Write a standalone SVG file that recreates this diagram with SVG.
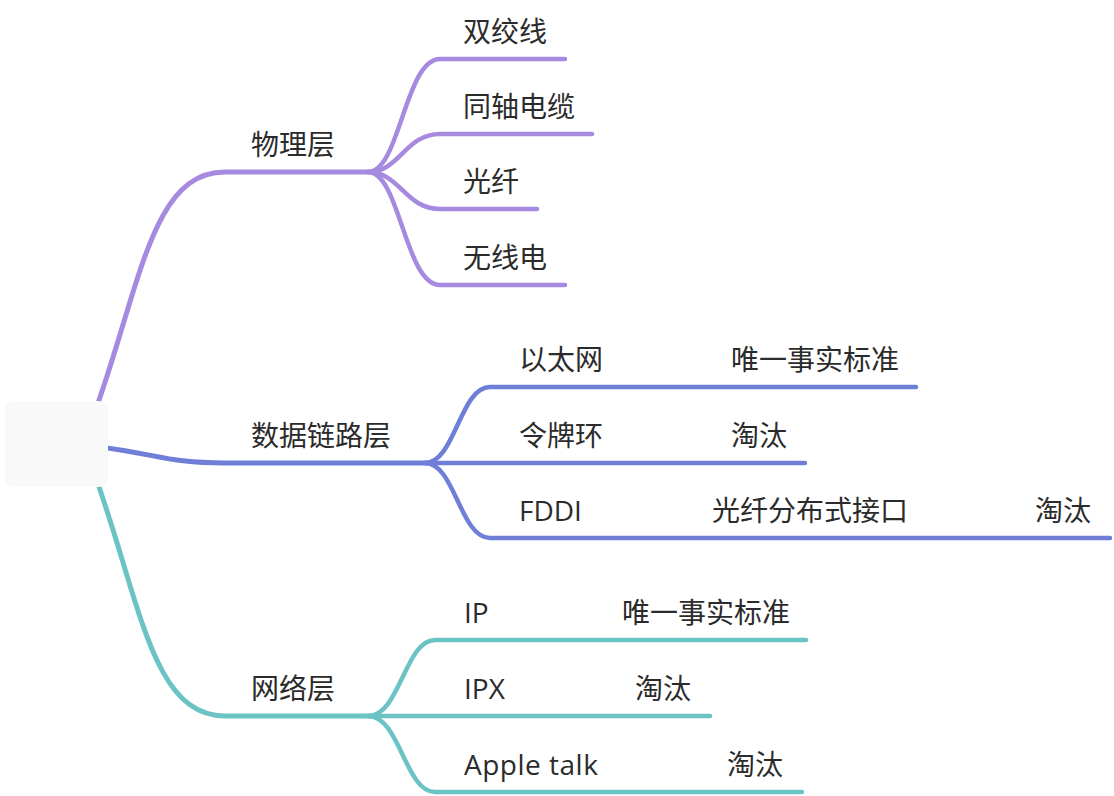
<svg xmlns="http://www.w3.org/2000/svg" width="1114" height="796" viewBox="0 0 1114 796">
<style>
text{font-family:"Open Sans","Noto Sans CJK SC",sans-serif;font-size:28px;fill:#2b2b2b}
.c{fill:none;stroke-linecap:round;stroke-linejoin:round;stroke-width:4.5}
.r{stroke-width:5}
.p{stroke:#a68ae0}
.b{stroke:#6f7fd8}
.t{stroke:#6cc3c3}
</style>
<rect width="1114" height="796" fill="#ffffff"/>
<g id="connectors">
<path class="c r p" d="M92,420 C140,290 150,172 225,172 L368,172"/>
<path class="c r b" d="M100,447 C160,455 170,463 225,463 L425,463"/>
<path class="c r t" d="M92,467 C140,597 150,716 225,716 L368,716"/>
<path class="c p" d="M368,172 C400,172 405,59 440,59 L565,59"/>
<path class="c p" d="M368,172 C400,172 405,134 440,134 L592,134"/>
<path class="c p" d="M368,172 C400,172 405,209 440,209 L537,209"/>
<path class="c p" d="M368,172 C400,172 405,285 440,285 L565,285"/>
<path class="c b" d="M425,463 C455,463 460,387 490,387 L617,387 L916,387"/>
<path class="c b" d="M425,463 L617,463 L805,463"/>
<path class="c b" d="M425,463 C455,463 460,538 490,538 L602,538 L923,538 L1110,538"/>
<path class="c t" d="M368,716 C400,716 405,640 435,640 L520,640 L806,640"/>
<path class="c t" d="M368,716 L520,716 L710,716"/>
<path class="c t" d="M368,716 C400,716 405,792 435,792 L620,792 L802,792"/>
</g>
<g id="root"><rect x="5" y="401" width="103" height="86" rx="9" fill="#f9f9f9"/></g>
<g id="n-physical"><text x="251" y="155">物理层</text></g>
<g id="n-twisted"><text x="463" y="42">双绞线</text></g>
<g id="n-coax"><text x="463" y="117">同轴电缆</text></g>
<g id="n-fiber"><text x="463" y="192">光纤</text></g>
<g id="n-radio"><text x="463" y="268">无线电</text></g>
<g id="n-datalink"><text x="251" y="446">数据链路层</text></g>
<g id="n-ethernet"><text x="519" y="370">以太网</text></g>
<g id="n-ethernet-std"><text x="731" y="370">唯一事实标准</text></g>
<g id="n-tokenring"><text x="519" y="446">令牌环</text></g>
<g id="n-tokenring-out"><text x="731" y="446">淘汰</text></g>
<g id="n-fddi"><text x="519" y="521">FDDI</text></g>
<g id="n-fddi-desc"><text x="712" y="521">光纤分布式接口</text></g>
<g id="n-fddi-out"><text x="1035" y="521">淘汰</text></g>
<g id="n-network"><text x="251" y="699">网络层</text></g>
<g id="n-ip"><text x="464" y="623">IP</text></g>
<g id="n-ip-std"><text x="622" y="623">唯一事实标准</text></g>
<g id="n-ipx"><text x="464" y="699">IPX</text></g>
<g id="n-ipx-out"><text x="635" y="699">淘汰</text></g>
<g id="n-appletalk"><text x="464" y="775" letter-spacing="0.5">Apple talk</text></g>
<g id="n-appletalk-out"><text x="727" y="775">淘汰</text></g>
</svg>
